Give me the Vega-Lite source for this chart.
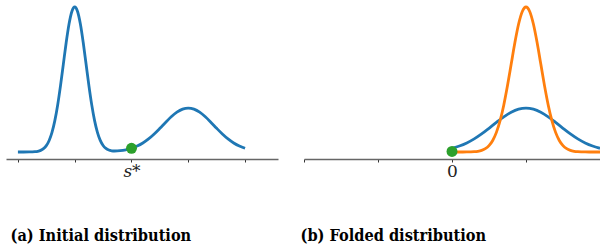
{
  "$schema": "https://vega.github.io/schema/vega-lite/v6.json",
  "padding": {"left": 6, "top": 0, "right": 0, "bottom": 0},
  "autosize": {"type": "pad"},
  "spacing": 26,
  "bounds": "flush",
  "config": {
    "view": {"stroke": null},
    "axis": {
      "grid": false,
      "offset": 7,
      "tickSize": 3,
      "tickColor": "#333",
      "domainColor": "#666",
      "domainWidth": 1.3,
      "labelPadding": 1,
      "labelFont": "DejaVu Serif",
      "labelFontSize": 17,
      "labelColor": "#222",
      "labelFlush": false,
      "labelOverlap": false,
      "titleFont": "DejaVu Serif Condensed",
      "titleFontSize": 16.2,
      "titleFontWeight": "bold",
      "titleColor": "#000",
      "titleAlign": "left",
      "titleBaseline": "alphabetic",
      "titleY": 81
    }
  },
  "datasets": {
    "initial": [
      {"x": -2.0, "y": 0}, {"x": -1.9, "y": 0.0000}, {"x": -1.8, "y": 0.0003}, {"x": -1.7, "y": 0.0022},
      {"x": -1.65, "y": 0.0051}, {"x": -1.6, "y": 0.0111}, {"x": -1.55, "y": 0.0228}, {"x": -1.5, "y": 0.0439},
      {"x": -1.45, "y": 0.0796}, {"x": -1.4, "y": 0.1353}, {"x": -1.35, "y": 0.2163}, {"x": -1.3, "y": 0.3247},
      {"x": -1.25, "y": 0.4578}, {"x": -1.2, "y": 0.6065}, {"x": -1.15, "y": 0.7548}, {"x": -1.1, "y": 0.8825},
      {"x": -1.05, "y": 0.9692}, {"x": -1.0, "y": 1.0}, {"x": -0.95, "y": 0.9692}, {"x": -0.9, "y": 0.8825},
      {"x": -0.85, "y": 0.7548}, {"x": -0.8, "y": 0.6066}, {"x": -0.75, "y": 0.4579}, {"x": -0.7, "y": 0.3249},
      {"x": -0.65, "y": 0.2166}, {"x": -0.6, "y": 0.1358}, {"x": -0.55, "y": 0.0804}, {"x": -0.5, "y": 0.0451},
      {"x": -0.45, "y": 0.0245}, {"x": -0.4, "y": 0.0135}, {"x": -0.35, "y": 0.0085}, {"x": -0.3, "y": 0.0069},
      {"x": -0.2, "y": 0.0090}, {"x": -0.1, "y": 0.0153}, {"x": 0.0, "y": 0.0257}, {"x": 0.1, "y": 0.0410},
      {"x": 0.2, "y": 0.0624}, {"x": 0.3, "y": 0.0904}, {"x": 0.4, "y": 0.1246}, {"x": 0.5, "y": 0.1634},
      {"x": 0.6, "y": 0.2041}, {"x": 0.7, "y": 0.2426}, {"x": 0.8, "y": 0.2745}, {"x": 0.9, "y": 0.2956},
      {"x": 1.0, "y": 0.3030}, {"x": 1.1, "y": 0.2956}, {"x": 1.2, "y": 0.2745}, {"x": 1.3, "y": 0.2426},
      {"x": 1.4, "y": 0.2041}, {"x": 1.5, "y": 0.1634}, {"x": 1.6, "y": 0.1246}, {"x": 1.7, "y": 0.0904},
      {"x": 1.8, "y": 0.0624}, {"x": 1.9, "y": 0.0410}, {"x": 2.0, "y": 0.0257}
    ],
    "folded_wide": [
      {"x": 0.0, "y": 0.0257}, {"x": 0.1, "y": 0.0410}, {"x": 0.2, "y": 0.0624}, {"x": 0.3, "y": 0.0904},
      {"x": 0.4, "y": 0.1246}, {"x": 0.5, "y": 0.1634}, {"x": 0.6, "y": 0.2041}, {"x": 0.7, "y": 0.2426},
      {"x": 0.8, "y": 0.2745}, {"x": 0.9, "y": 0.2956}, {"x": 1.0, "y": 0.3030}, {"x": 1.1, "y": 0.2956},
      {"x": 1.2, "y": 0.2745}, {"x": 1.3, "y": 0.2426}, {"x": 1.4, "y": 0.2041}, {"x": 1.5, "y": 0.1634},
      {"x": 1.6, "y": 0.1246}, {"x": 1.7, "y": 0.0904}, {"x": 1.8, "y": 0.0624}, {"x": 1.9, "y": 0.0410},
      {"x": 2.0, "y": 0.0257}
    ],
    "folded_narrow": [
      {"x": 0.0, "y": 0}, {"x": 0.1, "y": 0.0000}, {"x": 0.2, "y": 0.0003}, {"x": 0.3, "y": 0.0022},
      {"x": 0.35, "y": 0.0051}, {"x": 0.4, "y": 0.0111}, {"x": 0.45, "y": 0.0228}, {"x": 0.5, "y": 0.0439},
      {"x": 0.55, "y": 0.0796}, {"x": 0.6, "y": 0.1353}, {"x": 0.65, "y": 0.2163}, {"x": 0.7, "y": 0.3247},
      {"x": 0.75, "y": 0.4578}, {"x": 0.8, "y": 0.6065}, {"x": 0.85, "y": 0.7548}, {"x": 0.9, "y": 0.8825},
      {"x": 0.95, "y": 0.9692}, {"x": 1.0, "y": 1.0}, {"x": 1.05, "y": 0.9692}, {"x": 1.1, "y": 0.8825},
      {"x": 1.15, "y": 0.7548}, {"x": 1.2, "y": 0.6065}, {"x": 1.25, "y": 0.4578}, {"x": 1.3, "y": 0.3247},
      {"x": 1.35, "y": 0.2163}, {"x": 1.4, "y": 0.1353}, {"x": 1.45, "y": 0.0796}, {"x": 1.5, "y": 0.0439},
      {"x": 1.55, "y": 0.0228}, {"x": 1.6, "y": 0.0111}, {"x": 1.65, "y": 0.0051}, {"x": 1.7, "y": 0.0022},
      {"x": 1.8, "y": 0.0003}, {"x": 1.9, "y": 0.0000}, {"x": 2.0, "y": 0}
    ],
    "point_a": [{"x": 0, "y": 0.0257}],
    "point_b": [{"x": 0, "y": 0.004}]
  },
  "hconcat": [
    {
      "width": 272,
      "height": 152,
      "layer": [
        {
          "data": {"name": "initial"},
          "mark": {"type": "line", "color": "#1f77b4", "strokeWidth": 2.8, "interpolate": "monotone"},
          "encoding": {
            "x": {
              "field": "x", "type": "quantitative",
              "scale": {"domain": [-2.21, 2.58], "nice": false, "zero": false},
              "axis": {
                "values": [-2, -1, 0, 1, 2],
                "labelExpr": "datum.value === 0 ? 's*' : ''",
                "labelFontStyle": "italic",
                "title": "(a) Initial distribution",
                "titleX": 4
              }
            },
            "y": {"field": "y", "type": "quantitative", "scale": {"domain": [0, 1.0483], "nice": false}, "axis": null}
          }
        },
        {
          "data": {"name": "point_a"},
          "mark": {"type": "circle", "color": "#2ca02c", "size": 120, "opacity": 1},
          "encoding": {
            "x": {"field": "x", "type": "quantitative"},
            "y": {"field": "y", "type": "quantitative"}
          }
        }
      ]
    },
    {
      "width": 296,
      "height": 152,
      "layer": [
        {
          "data": {"name": "folded_wide"},
          "mark": {"type": "line", "color": "#1f77b4", "strokeWidth": 2.8, "interpolate": "monotone"},
          "encoding": {
            "x": {
              "field": "x", "type": "quantitative",
              "scale": {"domain": [-2, 2], "nice": false, "zero": false},
              "axis": {
                "values": [-2, -1, 0, 1, 2],
                "labelExpr": "datum.value === 0 ? '0' : ''",
                "title": "(b) Folded distribution",
                "titleX": -4
              }
            },
            "y": {"field": "y", "type": "quantitative", "scale": {"domain": [0, 1.0483], "nice": false}, "axis": null}
          }
        },
        {
          "data": {"name": "folded_narrow"},
          "mark": {"type": "line", "color": "#ff7f0e", "strokeWidth": 2.8, "interpolate": "monotone"},
          "encoding": {
            "x": {"field": "x", "type": "quantitative"},
            "y": {"field": "y", "type": "quantitative"}
          }
        },
        {
          "data": {"name": "point_b"},
          "mark": {"type": "circle", "color": "#2ca02c", "size": 120, "opacity": 1},
          "encoding": {
            "x": {"field": "x", "type": "quantitative"},
            "y": {"field": "y", "type": "quantitative"}
          }
        }
      ]
    }
  ]
}
